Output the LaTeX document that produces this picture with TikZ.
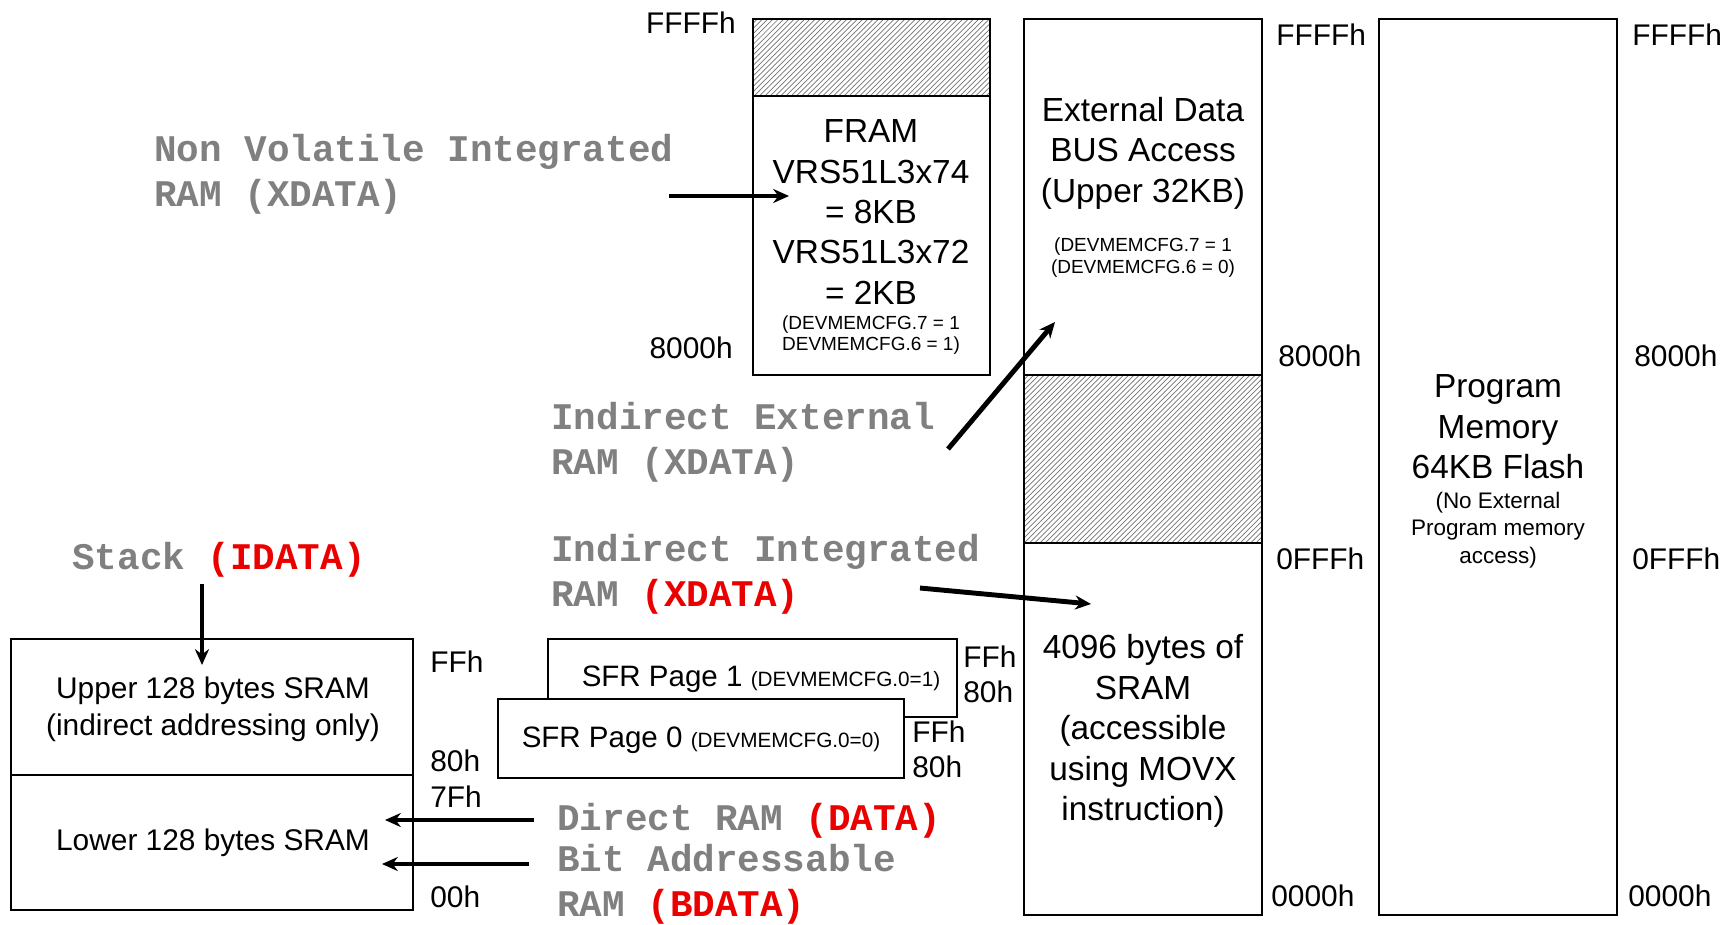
\documentclass[tikz,border=0pt]{standalone}
\usepackage{fontspec}
\setmainfont{Liberation Sans}
\newfontfamily\codefont{Liberation Mono}
\usetikzlibrary{arrows.meta,patterns}

\definecolor{lblgray}{RGB}{128,128,128}
\definecolor{lblred}{RGB}{235,0,0}
\newcommand{\rd}[1]{\textcolor{lblred}{#1}}

\tikzset{
  membox/.style={draw=black,line width=1.2pt},
  hatchbox/.style={membox,pattern=north east lines,pattern color=black!55},
  addr/.style={inner sep=0pt,font=\fontsize{17}{20}\selectfont},
  boxtxt/.style={align=center,inner sep=0pt,font=\fontsize{19}{23}\selectfont},
  cfgtxt/.style={align=center,inner sep=0pt,font=\fontsize{10.8}{12.5}\selectfont},
  ramlbl/.style={align=left,anchor=west,inner sep=0pt,text=lblgray,
    font=\codefont\bfseries\fontsize{21.4}{25.6}\selectfont},
  ptr/.style={line width=2.8pt,-{Stealth[length=9pt,width=8pt]}},
}

\begin{document}
\begin{tikzpicture}[x=0.02cm,y=-0.02cm]

\useasboundingbox (0,0) rectangle (1728,924);

% FRAM column
\draw[hatchbox] (753,19) rectangle (990,96);
\draw[membox] (753,96) rectangle (990,375);
\node[boxtxt] (fram) at (871,212) {FRAM\\VRS51L3x74\\= 8KB\\VRS51L3x72\\= 2KB};
\node[cfgtxt,font=\fontsize{10.8}{12}\selectfont] (framcfg) at (871,335) {(DEVMEMCFG.7 = 1\\DEVMEMCFG.6 = 1)};
\node[addr,anchor=east] (framtop) at (736,23) {FFFFh};
\node[addr,anchor=east] (frambot) at (733,348) {8000h};

% external data column
\draw[membox] (1024,19) rectangle (1262,375);
\draw[hatchbox] (1024,375) rectangle (1262,543);
\draw[membox] (1024,543) rectangle (1262,915);
\node[boxtxt] (ext) at (1143,153) {External Data\\BUS Access\\(Upper 32KB)};
\node[cfgtxt] (extcfg) at (1143,258) {(DEVMEMCFG.7 = 1\\(DEVMEMCFG.6 = 0)};
\node[boxtxt] (xsram) at (1143,731) {4096 bytes of\\SRAM\\(accessible\\using MOVX\\instruction)};
\node[addr,anchor=west] (exta) at (1276,35) {FFFFh};
\node[addr,anchor=west] (extb) at (1278,356) {8000h};
\node[addr,anchor=west] (extc) at (1276,559) {0FFFh};
\node[addr,anchor=west] (extd) at (1271,896) {0000h};

% program memory column
\draw[membox] (1379,19) rectangle (1617,915);
\node[boxtxt] (prog) at (1498,427) {Program\\Memory\\64KB Flash};
\node[cfgtxt,font=\fontsize{12.8}{15.7}\selectfont] (progcfg) at (1498,530) {(No External\\Program memory\\access)};
\node[addr,anchor=west] (proga) at (1632,35) {FFFFh};
\node[addr,anchor=west] (progb) at (1634,356) {8000h};
\node[addr,anchor=west] (progc) at (1632,559) {0FFFh};
\node[addr,anchor=west] (progd) at (1628,896) {0000h};

% internal SRAM
\draw[membox] (11,639) rectangle (413,775);
\draw[membox] (11,775) rectangle (413,910);
\node[boxtxt,font=\fontsize{17}{21.3}\selectfont] (upper) at (213,709) {Upper 128 bytes SRAM\\(indirect addressing only)};
\node[boxtxt,font=\fontsize{17}{21.3}\selectfont] (lower) at (213,843) {Lower 128 bytes SRAM};
\node[addr,anchor=west] (srama) at (430,662) {FFh};
\node[addr,anchor=west] (sramb) at (430,761) {80h};
\node[addr,anchor=west] (sramc) at (430,797) {7Fh};
\node[addr,anchor=west] (sramd) at (430,897) {00h};

% SFR pages
\draw[membox,fill=white] (548,639) rectangle (957,717);
\node[boxtxt,font=\fontsize{16.8}{20}\selectfont] (sfr1) at (761,679) {SFR Page 1 {\fontsize{11.8}{14}\selectfont(DEVMEMCFG.0=1)}};
\draw[membox,fill=white] (498,699) rectangle (904,778);
\node[boxtxt,font=\fontsize{16.8}{20}\selectfont] (sfr0) at (701,740) {SFR Page 0 {\fontsize{11.8}{14}\selectfont(DEVMEMCFG.0=0)}};
\node[addr,anchor=west] (sfr1a) at (963,657) {FFh};
\node[addr,anchor=west] (sfr1b) at (963,692) {80h};
\node[addr,anchor=west] (sfr0a) at (912,732) {FFh};
\node[addr,anchor=west] (sfr0b) at (912,767) {80h};

% memory space labels
\node[ramlbl] (nvram) at (154,174) {Non Volatile Integrated\\RAM (XDATA)};
\node[ramlbl] (indext) at (551,442) {Indirect External\\RAM (XDATA)};
\node[ramlbl] (indint) at (551,574) {Indirect Integrated\\RAM \rd{(XDATA)}};
\node[ramlbl] (stack) at (72,560) {Stack \rd{(IDATA)}};
\node[ramlbl] (direct) at (557,821) {Direct RAM \rd{(DATA)}};
\node[ramlbl] (bitram) at (557,884) {Bit Addressable\\RAM \rd{(BDATA)}};

% pointers
\coordinate (nvfrom) at (669,196);
\coordinate (nvto) at (789,196);
\coordinate (extfrom) at (948,449);
\coordinate (extto) at (1055,322);
\coordinate (intfrom) at (920,588);
\coordinate (intto) at (1091,604);
\coordinate (stkfrom) at (202,584);
\coordinate (stkto) at (202,665);
\coordinate (dirfrom) at (534,820);
\coordinate (dirto) at (385,820);
\coordinate (bitfrom) at (529,864);
\coordinate (bitto) at (382,864);

\draw[ptr] (nvfrom) -- (nvto);
\draw[ptr] (extfrom) -- (extto);
\draw[ptr] (intfrom) -- (intto);
\draw[ptr] (stkfrom) -- (stkto);
\draw[ptr] (dirfrom) -- (dirto);
\draw[ptr] (bitfrom) -- (bitto);

\end{tikzpicture}
\end{document}
